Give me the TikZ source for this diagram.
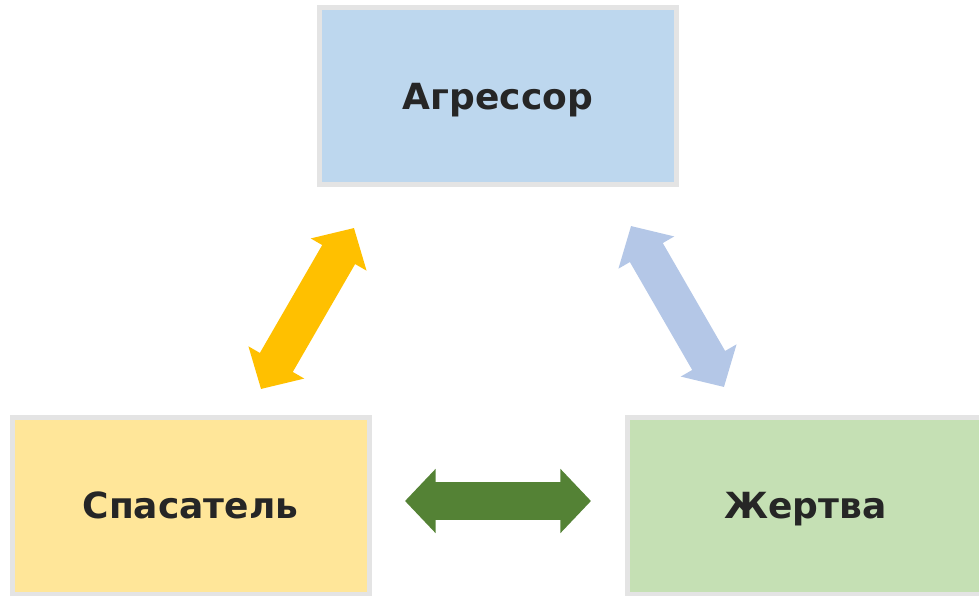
\documentclass[tikz,border=0pt]{standalone}
\usepackage{fontspec}
\setmainfont{DejaVu Sans}
\usetikzlibrary{arrows.meta}
\definecolor{boxborder}{HTML}{E4E4E4}
\definecolor{aggrfill}{HTML}{BDD7EE}
\definecolor{rescfill}{HTML}{FFE699}
\definecolor{victfill}{HTML}{C5E0B4}
\definecolor{aggrarrow}{HTML}{B4C7E7}
\definecolor{rescarrow}{HTML}{FFC000}
\definecolor{victarrow}{HTML}{548235}
\definecolor{labeltext}{HTML}{262626}

\begin{document}
\begin{tikzpicture}[
    x=0.75pt, y=-0.75pt,
    role/.style={draw=boxborder, line width=3.75pt, minimum width=267.75pt, minimum height=132.75pt,
        text depth=0pt, text=labeltext, font=\fontsize{27}{32}\selectfont\bfseries},
    bigarrow/.style={line width=28.5pt, {Triangle[length=23pt, width=47pt]}-{Triangle[length=23pt, width=47pt]}}
]
\useasboundingbox (0,0) rectangle (979,596);
\clip (0,0) rectangle (979,596);
% Define shapes
\node (aggressor) [role, fill=aggrfill] at (498,96) {Агрессор};
\node (rescuer) [role, fill=rescfill] at (190.5,505.5) {Спасатель};
\node (victim) [role, fill=victfill] at (805.5,505.5) {Жертва};
% arrow ends
\coordinate (rescTop) at (354,228);
\coordinate (rescBot) at (261,389);
\coordinate (victTop) at (631,226);
\coordinate (victBot) at (724,387);
\coordinate (midLeft) at (405,501);
\coordinate (midRight) at (591,501);
% Draw arrows
\draw[bigarrow, rescarrow] (rescBot) -- (rescTop);
\draw[bigarrow, aggrarrow] (victTop) -- (victBot);
\draw[bigarrow, victarrow] (midLeft) -- (midRight);
\end{tikzpicture}
\end{document}
